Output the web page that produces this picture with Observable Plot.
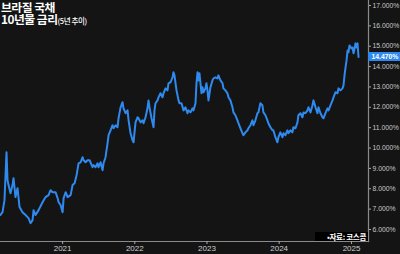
<!DOCTYPE html>
<html><head><meta charset="utf-8">
<script src="https://cdn.jsdelivr.net/npm/d3@7"></script>
<script src="https://cdn.jsdelivr.net/npm/@observablehq/plot@0.6"></script>
<style>
html,body{margin:0;padding:0;background:#141414;}
#wrap{position:relative;width:400px;height:254px;overflow:hidden;background:#141414;font-family:"Noto Sans CJK KR","Noto Sans",sans-serif;}
.t{position:absolute;left:1px;color:#fff;font-weight:700;font-size:11.8px;line-height:12px;height:12px;letter-spacing:-0.5px;white-space:nowrap;}
#t1{top:1px;}
#t2{top:13px;}
#t2 small{font-size:7.5px;font-weight:500;letter-spacing:-0.4px;}
#cap{position:absolute;right:32px;top:232px;height:9px;line-height:9px;padding:0 2px 0 12px;background:#000;color:#fff;font-weight:700;font-size:7.5px;letter-spacing:-0.3px;}
</style></head>
<body><div id="wrap">
<div class="t" id="t1">브라질 국채</div>
<div class="t" id="t2">10년물 금리<small>(5년 추이)</small></div>
<div id="cap">•자료: 코스콤</div>
</div>
<script>
const yearTicks = [2021, 2022, 2023, 2024, 2025];
const rateTicks = [6, 7, 8, 9, 10, 11, 12, 13, 14, 15, 16, 17];
const lastLabel = "14.470%";
// time as decimal years
const years = [
2020.142,2020.170,2020.197,2020.225,2020.239,2020.253,2020.280,2020.308,2020.322,2020.349,
2020.377,2020.405,2020.446,2020.488,2020.529,2020.557,2020.585,2020.599,2020.626,2020.668,
2020.723,2020.765,2020.806,2020.834,2020.862,2020.903,2020.931,2020.945,2020.972,2021.000,
2021.014,2021.042,2021.069,2021.111,2021.138,2021.166,2021.194,2021.221,2021.249,2021.277,
2021.291,2021.318,2021.346,2021.374,2021.415,2021.429,2021.457,2021.484,2021.498,2021.526,
2021.554,2021.567,2021.595,2021.623,2021.637,2021.664,2021.692,2021.706,2021.734,2021.761,
2021.775,2021.803,2021.830,2021.844,2021.872,2021.900,2021.914,2021.941,2021.969,2021.983,
2022.010,2022.038,2022.052,2022.080,2022.107,2022.121,2022.149,2022.176,2022.190,2022.204,
2022.232,2022.260,2022.273,2022.287,2022.315,2022.329,2022.356,2022.384,2022.398,2022.426,
2022.453,2022.467,2022.495,2022.523,2022.536,2022.550,2022.578,2022.606,2022.619,2022.647,
2022.675,2022.702,2022.730,2022.744,2022.772,2022.799,2022.813,2022.841,2022.855,2022.869,
2022.882,2022.896,2022.924,2022.938,2022.952,2022.979,2022.993,2023.007,2023.021,2023.048,
2023.076,2023.090,2023.118,2023.145,2023.159,2023.187,2023.215,2023.228,2023.256,2023.284,
2023.298,2023.325,2023.353,2023.367,2023.394,2023.422,2023.436,2023.464,2023.491,2023.505,
2023.533,2023.561,2023.574,2023.602,2023.630,2023.644,2023.671,2023.699,2023.713,2023.740,
2023.768,2023.782,2023.810,2023.837,2023.851,2023.879,2023.907,2023.920,2023.948,2023.976,
2023.990,2024.017,2024.045,2024.059,2024.087,2024.114,2024.128,2024.156,2024.183,2024.197,
2024.225,2024.253,2024.266,2024.294,2024.322,2024.336,2024.363,2024.391,2024.405,2024.433,
2024.460,2024.474,2024.502,2024.529,2024.543,2024.571,2024.599,2024.612,2024.640,2024.668,
2024.682,2024.709,2024.737,2024.751,2024.779,2024.806,2024.820,2024.848,2024.875,2024.889,
2024.903,2024.917,2024.931,2024.945,2024.958,2024.972,2025.000,2025.014,2025.028,2025.042,
2025.055,2025.069,2025.083,2025.097
];
// yield, %
const rates = [
6.71,6.85,7.44,9.79,8.42,8.18,7.78,8.18,8.52,7.59,
8.03,7.10,6.85,6.71,6.56,6.31,6.46,6.95,6.71,6.95,
7.34,7.59,7.69,7.93,7.83,7.83,7.54,7.34,7.20,6.85,
7.54,7.83,7.59,7.69,8.18,8.27,8.67,9.25,9.30,9.55,
9.40,9.30,9.40,9.40,9.06,9.16,9.06,9.25,9.06,9.30,
8.91,9.25,9.55,10.24,10.63,10.87,11.12,10.97,11.12,11.02,
11.46,12.00,12.25,11.95,11.71,11.85,11.36,10.73,10.38,10.28,
11.26,11.51,11.46,11.26,11.36,11.22,11.51,11.95,12.34,12.00,
11.46,11.02,11.85,12.20,12.34,12.49,12.69,12.49,12.69,12.93,
12.83,13.18,13.23,13.47,13.72,13.57,12.83,12.34,12.20,12.20,
11.85,12.00,11.71,11.85,11.75,11.95,11.85,12.20,13.18,13.72,
13.32,13.67,12.69,12.98,12.74,12.93,13.18,12.83,12.34,12.98,
13.32,13.42,13.47,13.42,13.57,13.32,13.18,12.93,12.83,12.69,
12.49,12.34,12.00,11.75,11.61,11.36,11.22,10.97,10.73,10.63,
10.77,10.87,10.97,11.12,11.36,11.12,11.36,11.71,11.75,12.20,
12.10,11.75,11.61,11.36,11.22,11.02,10.87,10.87,10.53,10.28,
10.53,10.77,10.53,10.73,10.63,10.87,10.73,10.87,10.77,11.02,
10.97,11.26,11.61,11.71,11.51,11.75,11.71,11.85,12.00,11.75,
12.10,12.34,12.00,11.71,12.00,11.71,11.51,11.46,11.71,11.95,
11.85,12.10,12.34,12.49,12.74,12.69,12.93,12.83,12.93,13.08,
13.57,13.96,14.30,14.79,14.70,15.04,14.89,14.94,14.65,14.89,
15.14,14.94,15.14,14.47
];
const BLUE = "#2f8af0";
function decToDate(t) {
  const y = Math.floor(t);
  const a = Date.UTC(y, 0, 1), b = Date.UTC(y + 1, 0, 1);
  return new Date(a + (t - y) * (b - a));
}
const data = years.map((t, i) => ({date: decToDate(t), rate: rates[i]}));
const last = data[data.length - 1];

const chart = Plot.plot({
  width: 400, height: 254,
  marginLeft: 0, marginRight: 32, marginTop: 0, marginBottom: 13,
  style: {background: "transparent", color: "#c8c8c8", fontFamily: "Liberation Sans, Arial, sans-serif"},
  x: {type: "utc", domain: [decToDate(2020.142), decToDate(2025.235)]},
  y: {domain: [5.41, 17.245]},
  marks: [
    Plot.line(data, {x: "date", y: "rate", stroke: BLUE, strokeWidth: 2, strokeLinejoin: "round"}),
    Plot.frame({anchor: "right", stroke: "#8a8a8a", strokeWidth: 1.2}),
    Plot.frame({anchor: "bottom", stroke: "#8a8a8a", strokeWidth: 1.2}),
    Plot.axisY({anchor: "right", ticks: rateTicks, tickFormat: d => d.toFixed(3) + "%",
      tickSize: 2, tickPadding: 2, fontSize: 6.8, fill: "#c8c8c8", stroke: "#aaa", label: null}),
    Plot.axisX({ticks: yearTicks.map(y => decToDate(y)), tickFormat: d3.utcFormat("%Y"),
      tickSize: 3, tickPadding: 1, fontSize: 8, fill: "#cfcfcf", stroke: "#aaa", label: null}),
    Plot.text([last], {x: "date", y: "rate", text: () => lastLabel,
      textAnchor: "start", fill: "#fff", fontSize: 6.8, fontWeight: "bold", className: "lastlab"})
  ]
});
document.getElementById("wrap").prepend(chart);
// blue background box for the last-value label, placed on the right axis
const svg = d3.select(chart);
const yy = chart.scale("y").apply(last.rate);
const xr = chart.scale("x").range[1];
svg.select("g.lastlab").selectAll("text")
  .attr("transform", null).attr("x", xr + 3).attr("y", yy).attr("dy", "0.35em");
svg.insert("rect", "g.lastlab").attr("x", xr).attr("y", yy - 4.5)
  .attr("width", 400 - xr).attr("height", 9).attr("fill", BLUE);
</script>
</body></html>
